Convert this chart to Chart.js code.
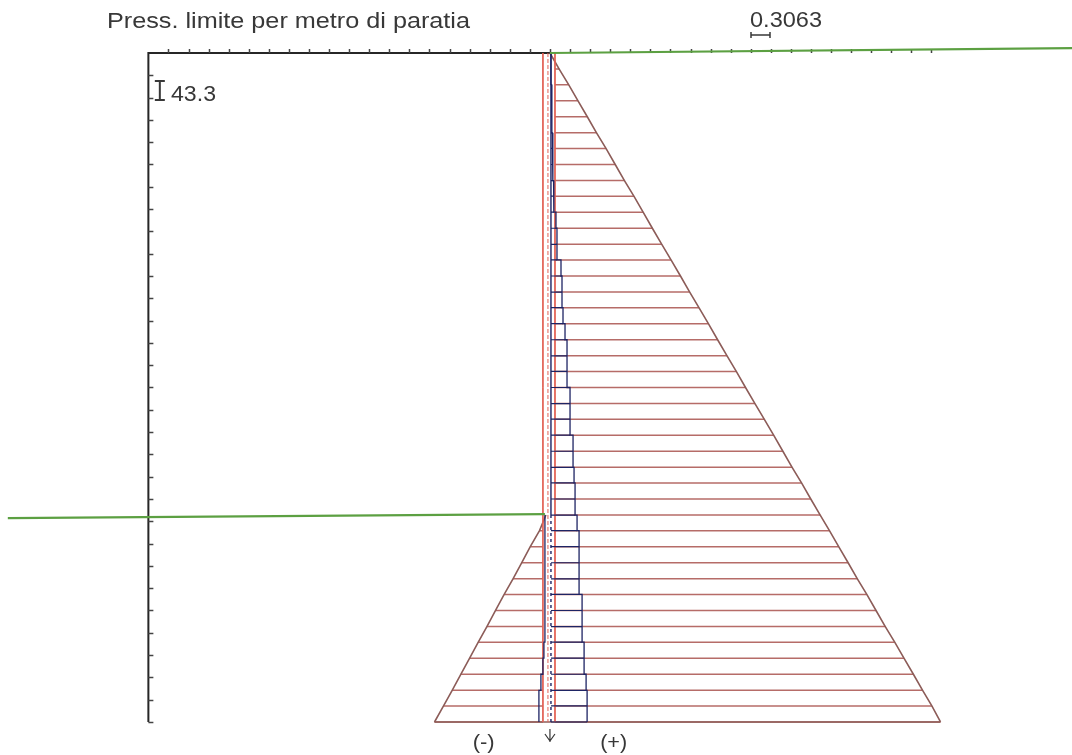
<!DOCTYPE html>
<html>
<head>
<meta charset="utf-8">
<script src="https://cdn.jsdelivr.net/npm/chart.js@4/dist/chart.umd.min.js"></script>
<style>
  html, body { margin: 0; padding: 0; background: #fff; }
  canvas { display: block; }
</style>
</head>
<body>
<canvas id="chart" width="1072" height="755"></canvas>
<script>
// depth of each element boundary along the wall (m)
const depthLevels = [0.36, 0.71, 1.07, 1.43, 1.79, 2.14, 2.50, 2.86, 3.21, 3.57, 3.93, 4.29, 4.64, 5.00,
    5.36, 5.71, 6.07, 6.43, 6.79, 7.14, 7.50, 7.86, 8.21, 8.57, 8.93, 9.29, 9.64, 10.00, 10.36, 10.71,
    11.07, 11.43, 11.79, 12.14, 12.50, 12.86, 13.21, 13.57, 13.93, 14.29, 14.64, 15.00];

// limit pressure on the (+) side, one per level
const passiveLimit = [4.6, 9.3, 13.9, 18.6, 23.2, 27.9, 32.5, 37.1, 41.8, 46.4, 51.0, 55.7, 60.3, 65.0,
    69.6, 74.2, 78.9, 83.5, 88.2, 92.8, 97.4, 102.1, 106.7, 111.4, 116.0, 120.6, 125.3, 129.9, 134.6, 139.2,
    143.8, 148.5, 153.1, 157.8, 162.4, 167.0, 171.7, 176.3, 181.0, 185.6, 190.2, 194.5];

// limit pressure on the (-) side, below the excavation level
const activeDepths = [10.36, 10.71, 11.07, 11.43, 11.79, 12.14, 12.50, 12.86, 13.21, 13.57, 13.93, 14.29, 14.64, 15.00];
const activeLimit = [-2.0, -5.2, -9.8, -14.1, -18.4, -22.8, -27.1, -31.4, -35.7, -40.0, -44.4, -48.7, -53.0, -57.5];

// mobilised pressure, one value per element (+ side)
const mobilisedPos = [0.5, 0.5, 0.8, 1.0, 1.0, 1.2, 1.5, 1.5, 1.8, 2.0, 3.0, 3.5, 3.5, 5.5,
    6.0, 6.0, 6.5, 7.5, 8.5, 8.5, 8.5, 10.0, 10.0, 10.0, 11.5, 11.5, 12.0, 12.5, 12.5, 13.5,
    14.5, 14.5, 14.5, 14.5, 16.0, 16.0, 16.0, 17.0, 17.0, 18.0, 18.5, 18.5];
// mobilised pressure (- side), elements below the excavation
const mobilisedNeg = [-2.5, -2.5, -2.5, -2.5, -2.5, -2.5, -2.5, -2.5, -3.0, -3.5, -4.5, -5.5, -5.5];

const groundLeft = [{ x: -270, y: 10.43 }, { x: -2.5, y: 10.34 }];
const groundRight = [{ x: 0, y: 0 }, { x: 260, y: -0.11 }];

const wallBottom = 15;
const axisLeft = -200;
const xTicks = [];
for (let v = -190; v <= 190; v += 10) xTicks.push(v);
const yTicks = [];
for (let v = 0.5; v <= 15.001; v += 0.5) yTicks.push(v);

const GAP = { x: NaN, y: NaN };

// horizontal hatch of the two limit diagrams
let hatch = [];
depthLevels.forEach((d, i) => {
    hatch.push({ x: 2.5, y: d }, { x: passiveLimit[i], y: d }, GAP);
});
activeDepths.slice(1).forEach((d, i) => {
    hatch.push({ x: activeLimit[i + 1], y: d }, { x: -3.5, y: d }, GAP);
});

let passiveEdge = [{ x: 0, y: 0 }].concat(depthLevels.map((d, i) => ({ x: passiveLimit[i], y: d })));
let activeEdge = activeDepths.map((d, i) => ({ x: activeLimit[i], y: d }));
let base = [{ x: activeLimit[activeLimit.length - 1], y: wallBottom }, { x: passiveLimit[passiveLimit.length - 1], y: wallBottom }];

// stepped outline + hatch of the mobilised pressure
let stepPos = [], stepPosHatch = [];
mobilisedPos.forEach((v, i) => {
    let top = i === 0 ? 0 : depthLevels[i - 1];
    stepPos.push({ x: v, y: top }, { x: v, y: depthLevels[i] });
    stepPosHatch.push({ x: 0.5, y: depthLevels[i] }, { x: v, y: depthLevels[i] }, GAP);
});
let stepNeg = [];
mobilisedNeg.forEach((v, i) => {
    stepNeg.push({ x: v, y: depthLevels[28 + i] }, { x: v, y: depthLevels[29 + i] });
});

function line(data, color, width, order, dash) {
    return {
        data: data, showLine: true, borderColor: color, borderWidth: width,
        pointRadius: 0, fill: false, order: order, borderDash: dash || [], clip: false
    };
}

const frame = {
    id: 'frame',
    beforeDatasetsDraw(chart) {
        const { ctx, scales: { x, y } } = chart;
        const x0 = x.getPixelForValue(axisLeft), y0 = y.getPixelForValue(0);
        ctx.save();
        ctx.strokeStyle = '#262626';
        ctx.lineWidth = 2;
        ctx.beginPath();
        ctx.moveTo(x.getPixelForValue(0), y0);
        ctx.lineTo(x0, y0);
        ctx.lineTo(x0, y.getPixelForValue(wallBottom));
        ctx.stroke();
        ctx.strokeStyle = '#444';
        ctx.lineWidth = 1.5;
        ctx.beginPath();
        xTicks.forEach(v => {
            const px = Math.round(x.getPixelForValue(v)) + 0.5;
            ctx.moveTo(px, y0);
            ctx.lineTo(px, y0 - 4);
        });
        yTicks.forEach(v => {
            const py = Math.round(y.getPixelForValue(v)) + 0.5;
            ctx.moveTo(x0, py);
            ctx.lineTo(x0 + 5, py);
        });
        ctx.stroke();
        ctx.restore();
    },
    afterDatasetsDraw(chart) {
        const { ctx, scales: { x, y } } = chart;
        ctx.save();
        ctx.fillStyle = '#383838';
        ctx.strokeStyle = '#383838';
        ctx.textBaseline = 'alphabetic';
        const put = (text, px, py, size, width) => {
            ctx.font = size + 'px "Liberation Sans", Arial, sans-serif';
            const w = ctx.measureText(text).width;
            ctx.save();
            ctx.translate(px, py);
            ctx.scale(width ? width / w : 1, 1);
            ctx.fillText(text, 0, 0);
            ctx.restore();
        };
        put('Press. limite per metro di paratia', 107, 28, 22, 363);

        // vertical scale bar
        const bx = x.getPixelForValue(-194.3);
        ctx.lineWidth = 2;
        ctx.beginPath();
        ctx.moveTo(bx, 81); ctx.lineTo(bx, 100);
        ctx.moveTo(bx - 5, 81); ctx.lineTo(bx + 5, 81);
        ctx.moveTo(bx - 5, 100); ctx.lineTo(bx + 5, 100);
        ctx.stroke();
        put('43.3', 171, 101, 22, 45);

        // horizontal scale bar
        ctx.lineWidth = 1.5;
        ctx.beginPath();
        ctx.moveTo(751, 35); ctx.lineTo(770, 35);
        ctx.moveTo(751, 32); ctx.lineTo(751, 38);
        ctx.moveTo(770, 32); ctx.lineTo(770, 38);
        ctx.stroke();
        put('0.3063', 750, 27, 22, 72);

        put('(-)', x.getPixelForValue(-38.5), 749, 21, 22);
        put('(+)', x.getPixelForValue(25), 749, 21, 27);
        const ax = x.getPixelForValue(0);
        ctx.lineWidth = 1.2;
        ctx.beginPath();
        ctx.moveTo(ax, 729); ctx.lineTo(ax, 742);
        ctx.moveTo(ax - 5, 734); ctx.lineTo(ax, 741); ctx.lineTo(ax + 5, 734);
        ctx.stroke();
        ctx.restore();
    }
};

const hatchColor = 'rgb(182, 108, 104)';
const edgeColor = 'rgb(140, 92, 88)';
const wallRed = 'rgb(226, 96, 84)';
const navy = 'rgb(30, 36, 100)';
const green = 'rgb(92, 160, 66)';

new Chart(document.getElementById('chart'), {
    type: 'scatter',
    data: {
        datasets: [
            line(groundRight, green, 2.2, 0),
            line(groundLeft, green, 2.2, 0),
            line(stepPos, navy, 1.3, 1),
            line(stepPosHatch, navy, 1.2, 1),
            line(stepNeg, navy, 1.3, 1),
            line([{ x: 0.5, y: 0 }, { x: 0.5, y: 10.36 }], navy, 1.4, 2),
            line([{ x: 0.5, y: 10.36 }, { x: 0.5, y: wallBottom }], navy, 1.4, 2, [3, 3]),
            line([{ x: -3.5, y: 0 }, { x: -3.5, y: wallBottom }], wallRed, 1, 3),
            line([{ x: -1, y: 0 }, { x: -1, y: wallBottom }], wallRed, 1, 3, [4, 2]),
            line([{ x: 2.5, y: 0 }, { x: 2.5, y: wallBottom }], wallRed, 1, 3),
            line(passiveEdge, edgeColor, 1.6, 4),
            line(activeEdge, edgeColor, 1.6, 4),
            line(base, edgeColor, 1.6, 4),
            line(hatch, hatchColor, 1.5, 5)
        ]
    },
    options: {
        responsive: false,
        animation: false,
        layout: { padding: 0 },
        plugins: { legend: { display: false }, tooltip: { enabled: false } },
        scales: {
            x: { type: 'linear', display: false, min: -273.9, max: 260 },
            y: { type: 'linear', display: false, reverse: true, min: -1.188, max: 15.74 }
        }
    },
    plugins: [frame]
});
</script>
</body>
</html>
